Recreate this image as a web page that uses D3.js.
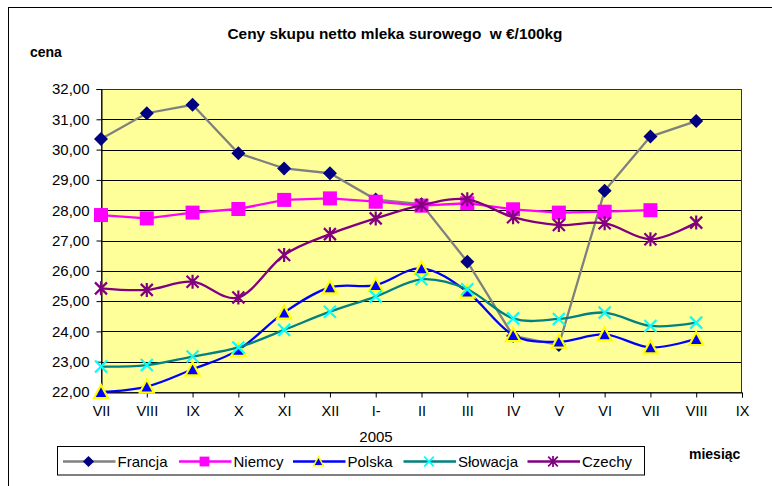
<!DOCTYPE html>
<html><head><meta charset="utf-8">
<script src="https://cdn.jsdelivr.net/npm/d3@7"></script>
<style>html,body{margin:0;padding:0;background:#fff;overflow:hidden}svg{display:block;font-family:Arial,"Liberation Sans",sans-serif}</style>
</head><body>
<svg id="c" width="772" height="486"></svg>
<script>
const months = ["VII","VIII","IX","X","XI","XII","I-","II","III","IV","V","VI","VII","VIII","IX"];
const yTicks = [22,23,24,25,26,27,28,29,30,31,32];
const francja  = [30.35,31.2,31.48,29.88,29.38,29.22,28.35,28.2,26.3,23.85,23.55,28.64,30.43,30.94];
const niemcy   = [27.84,27.73,27.92,28.04,28.34,28.39,28.28,28.15,28.23,28.03,27.92,27.95,28.0,null];
const polska   = [22.0,22.18,22.75,23.39,24.62,25.45,25.53,26.08,25.31,23.88,23.66,23.9,23.47,23.75];
const slowacja = [22.84,22.89,23.17,23.47,24.05,24.65,25.15,25.72,25.39,24.43,24.41,24.62,24.18,24.29];
const czechy   = [25.42,25.37,25.64,25.12,26.52,27.21,27.73,28.17,28.36,27.77,27.51,27.57,27.04,27.59];

const svg = d3.select("#c");
const L=101, R=742, T=89, B=392;
// chart border
svg.append("rect").attr("x",8.5).attr("y",7.5).attr("width",800).attr("height",520)
  .attr("fill","#fff").attr("stroke","#000").attr("stroke-width",1);

const x = d3.scalePoint().domain(d3.range(months.length)).range([L,R]);
const y = d3.scaleLinear().domain([22,32]).range([B,T]);

svg.append("rect").attr("x",L).attr("y",T).attr("width",R-L).attr("height",B-T).attr("fill","#FFFF99");
// gridlines
svg.append("g").selectAll("line").data(yTicks).join("line")
  .attr("x1",L).attr("x2",R).attr("y1",d=>Math.round(y(d))+0.5).attr("y2",d=>Math.round(y(d))+0.5)
  .attr("stroke","#000").attr("stroke-width",1);
svg.append("rect").attr("x",L+0.5).attr("y",T+0.5).attr("width",R-L-1).attr("height",B-T)
  .attr("fill","none").attr("stroke","#333").attr("stroke-width",1);

// axes
const yAxis = d3.axisLeft(y).tickValues(yTicks).tickSize(5).tickFormat(d=>d3.format(".2f")(d).replace(".",","));
const gy = svg.append("g").attr("transform",`translate(${L+0.5},0)`).call(yAxis);
gy.selectAll("text").attr("font-size","15px").attr("fill","#000").attr("x",-12).attr("font-family","Arial");
gy.select(".domain").attr("stroke","#000");
gy.selectAll(".tick line").attr("stroke","#000");

const xAxis = d3.axisBottom(x).tickSize(5).tickFormat(i=>months[i]);
const gx = svg.append("g").attr("transform",`translate(0,${B+0.5})`).call(xAxis);
gx.selectAll("text").attr("font-size","14.5px").attr("fill","#000").attr("y",13).attr("font-family","Arial");
gx.select(".domain").attr("stroke","#000");
gx.selectAll(".tick line").attr("stroke","#000");

// marker shapes
function drawMarker(g, type, cx, cy){
  if(type==="diamond"){
    g.append("path").attr("d",`M${cx},${cy-7}L${cx+7},${cy}L${cx},${cy+7}L${cx-7},${cy}Z`).attr("fill","#000080");
  } else if(type==="square"){
    g.append("rect").attr("x",cx-7).attr("y",cy-7).attr("width",14).attr("height",14).attr("fill","#FF00FF");
  } else if(type==="triangle"){
    g.append("path").attr("d",`M${cx},${cy-7}L${cx+7},${cy+6}L${cx-7},${cy+6}Z`).attr("fill","#0000FF")
      .attr("stroke","#FFFF00").attr("stroke-width",2.2).attr("stroke-linejoin","miter");
  } else if(type==="x"){
    g.append("path").attr("d",`M${cx-6},${cy-6}L${cx+6},${cy+6}M${cx+6},${cy-6}L${cx-6},${cy+6}`)
      .attr("stroke","#00FFFF").attr("stroke-width",2.2).attr("fill","none");
  } else if(type==="star"){
    g.append("path").attr("d",`M${cx-6},${cy-6}L${cx+6},${cy+6}M${cx+6},${cy-6}L${cx-6},${cy+6}M${cx},${cy-7}L${cx},${cy+7}`)
      .attr("stroke","#800080").attr("stroke-width",2.2).attr("fill","none");
  }
}

const series = [
  {name:"Francja", data:francja, line:"#808080", marker:"diamond", smooth:false},
  {name:"Niemcy", data:niemcy, line:"#FF00FF", marker:"square", smooth:false},
  {name:"Polska", data:polska, line:"#0000FF", marker:"triangle", smooth:true},
  {name:"Słowacja", data:slowacja, line:"#008080", marker:"x", smooth:true},
  {name:"Czechy", data:czechy, line:"#800080", marker:"star", smooth:true}
];

series.forEach(s=>{
  const g = svg.append("g");
  const line = d3.line().defined(d=>d!=null).x((d,i)=>x(i)).y(d=>y(d))
    .curve(s.smooth ? d3.curveCardinal.tension(0) : d3.curveLinear);
  g.append("path").attr("d",line(s.data)).attr("fill","none").attr("stroke",s.line).attr("stroke-width",2.3);
  s.data.forEach((d,i)=>{ if(d!=null) drawMarker(g, s.marker, x(i), y(d)); });
});

// texts
svg.append("text").attr("x",395).attr("y",39).attr("text-anchor","middle").attr("font-size","15px")
  .attr("font-weight","bold").attr("textLength",335).attr("lengthAdjust","spacingAndGlyphs")
  .attr("xml:space","preserve").text("Ceny skupu netto mleka surowego  w €/100kg");
svg.append("text").attr("x",30).attr("y",57).attr("font-size","14px").attr("font-weight","bold").text("cena");
svg.append("text").attr("x",689).attr("y",459).attr("font-size","14px").attr("font-weight","bold").text("miesiąc");
svg.append("text").attr("x",376).attr("y",442).attr("text-anchor","middle").attr("font-size","15px").text("2005");

// legend
const lg = svg.append("g");
lg.append("rect").attr("x",57.5).attr("y",446.5).attr("width",587).attr("height",28.5).attr("fill","#fff").attr("stroke","#000");
const lx = [63,179,293,403.5,527.5];
const ms = [0.8,0.7,0.7,0.8,0.8];
series.forEach((s,i)=>{
  const x0 = lx[i], cy = 461.5;
  lg.append("line").attr("x1",x0).attr("x2",x0+52.5).attr("y1",cy).attr("y2",cy).attr("stroke",s.line).attr("stroke-width",2.3);
  const mg = lg.append("g").attr("transform",`translate(${x0+25.5},${cy}) scale(${ms[i]}) translate(${-(x0+25.5)},${-cy})`);
  drawMarker(mg, s.marker, x0+25.5, cy);
  lg.append("text").attr("x",x0+54.5).attr("y",cy+5.5).attr("font-size","15px").text(s.name);
});
</script>
</body></html>
